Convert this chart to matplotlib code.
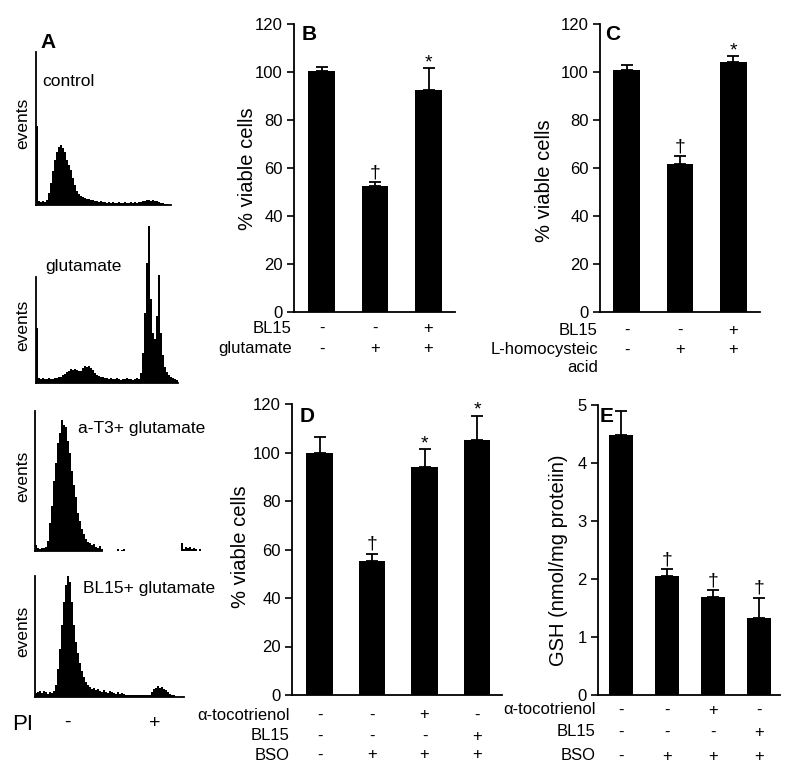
import numpy as np
import matplotlib.pyplot as plt
from matplotlib.transforms import blended_transform_factory

# ---- panel A: flow cytometry histograms (events per 2-channel bin) ----
bin_w = 2
hist_control = [79, 4, 3, 4, 3, 5, 12, 22, 34, 45, 53, 58, 60, 57, 53, 45, 40, 35,
                27, 20, 14, 11, 9, 8, 7, 6, 6, 5, 5, 4, 4, 3, 4, 3, 3, 2, 3, 2,
                3, 2, 2, 3, 2, 2, 3, 2, 2, 3, 2, 3, 2, 3, 3, 4, 4, 5, 5, 4, 5,
                4, 4, 3, 2, 2, 1, 1, 0, 0]
hist_glut = [55, 5, 4, 5, 4, 4, 5, 4, 4, 5, 5, 6, 6, 8, 9, 11, 12, 14, 13, 14,
             13, 12, 12, 15, 17, 16, 17, 15, 13, 10, 8, 7, 6, 6, 5, 5, 4, 5,
             4, 4, 5, 4, 3, 4, 4, 5, 4, 4, 3, 4, 5, 4, 10, 30, 70, 120, 157,
             84, 50, 44, 67, 108, 50, 28, 16, 11, 8, 6, 5, 4, 3]
hist_at3 = [6, 3, 2, 3, 3, 4, 10, 28, 45, 70, 88, 108, 118, 131, 126, 124, 110,
            98, 80, 66, 54, 38, 30, 22, 17, 12, 9, 8, 6, 7, 4, 3, 5, 2,
            0, 0, 0, 0, 0, 0, 0, 2, 0, 1, 2, 0,
            0, 0, 0, 0, 0, 0, 0, 0, 0, 0, 0, 0, 0, 0, 0, 0, 0, 0, 0, 0, 0,
            0, 0, 0, 0, 0, 0, 8, 2, 4, 3, 4, 2, 3, 2, 0, 2, 0]
hist_bl15 = [4, 5, 6, 4, 6, 5, 3, 5, 4, 6, 12, 28, 48, 72, 95, 112, 121, 115,
             95, 72, 55, 44, 34, 26, 20, 15, 12, 10, 8, 9, 7, 8, 6, 5, 7, 5,
             4, 6, 5, 4, 3, 5, 3, 4, 3, 2, 2, 2, 2, 2, 2, 2, 2, 2, 2, 2, 2,
             2, 5, 8, 9, 11, 9, 10, 8, 7, 5, 3, 2, 2, 0, 0, 0, 0]
hist_labels = ['control', 'glutamate', 'a-T3+ glutamate', 'BL15+ glutamate']

# ---- panel B ----
b_means = [100.5, 52.5, 92.4]
b_errs = [1.7, 1.6, 9.4]
b_marks = ['', '\u2020', '*']
b_rows = ['BL15', 'glutamate']
b_signs = [['-', '-', '+'], ['-', '+', '+']]

# ---- panel C ----
c_means = [100.9, 61.7, 104.2]
c_errs = [2.0, 3.3, 2.6]
c_marks = ['', '\u2020', '*']
c_rows = ['BL15', 'L-homocysteic']
c_signs = [['-', '-', '+'], ['-', '+', '+']]

# ---- panel D ----
d_means = [100.0, 55.3, 94.1, 105.2]
d_errs = [6.2, 3.0, 7.3, 10.0]
d_marks = ['', '\u2020', '*', '*']
d_rows = ['\u03b1-tocotrienol', 'BL15', 'BSO']
d_signs = [['-', '-', '+', '-'], ['-', '-', '-', '+'], ['-', '+', '+', '+']]

# ---- panel E ----
e_means = [4.48, 2.06, 1.69, 1.32]
e_errs = [0.42, 0.11, 0.12, 0.36]
e_marks = ['', '\u2020', '\u2020', '\u2020']
e_rows = ['\u03b1-tocotrienol', 'BL15', 'BSO']
e_signs = [['-', '-', '+', '-'], ['-', '-', '-', '+'], ['-', '+', '+', '+']]

W, H = 800, 780
plt.rcParams['font.family'] = ['Liberation Sans', 'DejaVu Sans']
fig = plt.figure(figsize=(W / 100, H / 100), dpi=100)


def px_box(l, t, r, b):
    return [l / W, 1 - b / H, (r - l) / W, (b - t) / H]


def ftext(x, y, s, **kw):
    fig.text(x / W, 1 - y / H, s, **kw)


def hist_axes(box, counts, label, label_xy, spine_end=None):
    l, t, r, b = box
    ax = fig.add_axes(px_box(l, t, r, b))
    edges = np.arange(len(counts) + 1) * bin_w
    st = ax.stairs(counts, edges, fill=True, color='black', linewidth=0)
    st.set_clip_on(False)
    ax.set_xlim(0, r - l)
    ax.set_ylim(0, b - t)
    for s in ['top', 'right']:
        ax.spines[s].set_visible(False)
    for s in ['left', 'bottom']:
        ax.spines[s].set_linewidth(1.3)
    if spine_end is not None:
        ax.spines['bottom'].set_bounds(0, spine_end)
    ax.set_xticks([])
    ax.set_yticks([])
    ftext(label_xy[0], label_xy[1], label, fontsize=12.5, ha='left', va='center')
    ftext(23, (t + b) / 2 - 5, 'events', fontsize=12.5, rotation=90,
          ha='center', va='center')
    return ax


hist_axes((36, 52, 171, 205), hist_control, hist_labels[0], (42, 81))
hist_axes((36, 277, 178, 383), hist_glut, hist_labels[1], (45, 267))
hist_axes((35, 411, 205, 551), hist_at3, hist_labels[2], (78, 428), spine_end=67)
hist_axes((35, 576, 184, 697), hist_bl15, hist_labels[3], (83, 588))
ftext(48, 43, 'A', fontsize=15, fontweight='bold', ha='center', va='center')
ftext(23, 724, 'PI', fontsize=16, ha='center', va='center')
ftext(67, 722, '-', fontsize=14, ha='center', va='center')
ftext(155, 724, '+', fontsize=14, ha='center', va='center')

mark_offset = {'*': 0.5, '\u2020': 3.5}


def bar_panel(box, means, errs, marks, ymax, tstep, width, xlim, rows, signs,
              row_y, ylabel, ylabel_xy, letter, letter_xy):
    l, t, r, b = box
    ax = fig.add_axes(px_box(l, t, r, b))
    x = np.arange(len(means))
    ax.bar(x, means, width=width, color='black', linewidth=0)
    ax.errorbar(x, means, yerr=[np.zeros(len(errs)), errs], fmt='none',
                ecolor='black', elinewidth=1.3, capsize=4.5, capthick=1.3)
    for xi, m, e, s in zip(x, means, errs, marks):
        if s:
            ax.annotate(s, (xi, m + e), xytext=(0, mark_offset[s]),
                        textcoords='offset points', ha='center',
                        va='baseline', fontsize=14)
    ax.set_xlim(*xlim)
    ax.set_ylim(0, ymax)
    ax.set_yticks(np.arange(0, ymax + tstep / 2, tstep))
    ax.set_xticks([])
    for s in ['top', 'right']:
        ax.spines[s].set_visible(False)
    for s in ['left', 'bottom']:
        ax.spines[s].set_linewidth(1.3)
    ax.tick_params(axis='y', direction='out', length=5, width=1.2,
                   labelsize=12, pad=3)
    trans = blended_transform_factory(ax.transData, fig.transFigure)
    for row, sg, ry in zip(rows, signs, row_y):
        ftext(l - 2, ry, row, fontsize=12, ha='right', va='center')
        for xi, s in zip(x, sg):
            ax.text(xi, 1 - ry / H, s, transform=trans, fontsize=12,
                    ha='center', va='center')
    ftext(ylabel_xy[0], ylabel_xy[1], ylabel, fontsize=14.5, rotation=90,
          ha='center', va='center')
    ftext(letter_xy[0], letter_xy[1], letter, fontsize=15, fontweight='bold',
          ha='center', va='center')
    return ax


bar_panel((294, 24, 455, 312), b_means, b_errs, b_marks, 120, 20, 0.5,
          (-0.514, 2.495), b_rows, b_signs, [328, 349],
          '% viable cells', (247, 169), 'B', (309, 35))
bar_panel((600, 24, 760, 312), c_means, c_errs, c_marks, 120, 20, 0.5,
          (-0.5, 2.5), c_rows, c_signs, [330, 350],
          '% viable cells', (545, 181), 'C', (613, 35))
ftext(598, 368, 'acid', fontsize=12, ha='right', va='center')
bar_panel((292, 404, 502, 695), d_means, d_errs, d_marks, 120, 20, 0.51,
          (-0.524, 3.476), d_rows, d_signs, [715, 736, 755],
          '% viable cells', (241, 547), 'D', (307, 416))
bar_panel((598, 405, 780, 695), e_means, e_errs, e_marks, 5, 1, 0.52,
          (-0.5, 3.457), e_rows, e_signs, [710, 732, 756],
          'GSH (nmol/mg proteiin)', (559, 560), 'E', (607, 416))

fig.savefig('out.png', dpi=100)
